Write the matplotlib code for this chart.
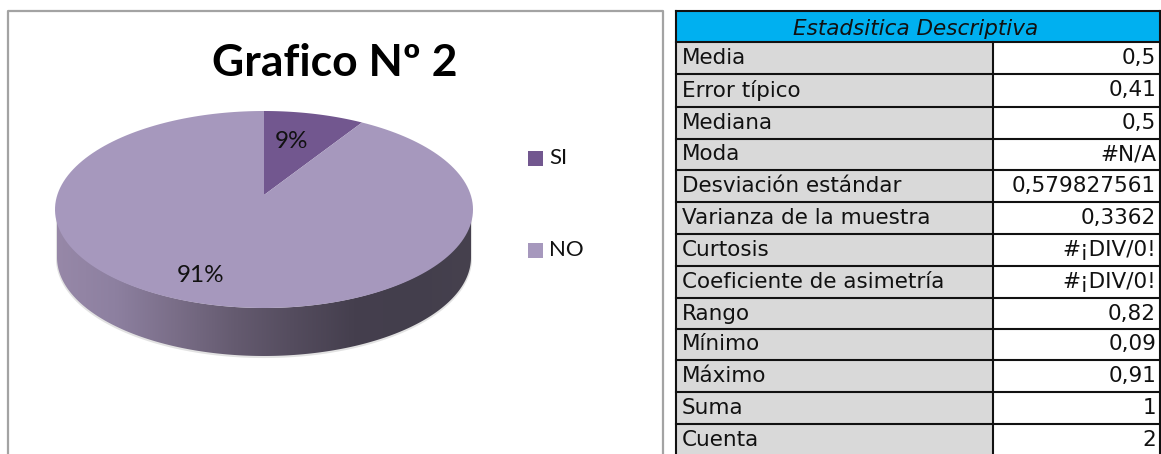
import matplotlib
matplotlib.use('Agg')
import matplotlib.pyplot as plt
import numpy as np
from matplotlib.colors import LinearSegmentedColormap
from matplotlib.patches import Rectangle, Polygon

# Pie data
categories = ['SI', 'NO']
shares = [9, 91]
pie_colors = ['#72578F', '#A698BD']

# Descriptive statistics table
table_title = 'Estadsitica Descriptiva'
stat_names = ['Media', 'Error típico', 'Mediana', 'Moda', 'Desviación estándar',
              'Varianza de la muestra', 'Curtosis', 'Coeficiente de asimetría',
              'Rango', 'Mínimo', 'Máximo', 'Suma', 'Cuenta']
stat_values = ['0,5', '0,41', '0,5', '#N/A', '0,579827561', '0,3362', '#¡DIV/0!',
               '#¡DIV/0!', '0,82', '0,09', '0,91', '1', '2']

W, H = 1161, 454
fig = plt.figure(figsize=(W / 100, H / 100), dpi=100)
ax = fig.add_axes([0, 0, 1, 1])
ax.set_xlim(0, W)
ax.set_ylim(H, 0)
ax.axis('off')

# Chart frame, open at the bottom
ax.plot([8, 8, 663, 663], [H, 11, 11, H], color='#A3A3A3', lw=1.6)
ax.text(335, 63, 'Grafico Nº 2', family='Lato', weight='bold', fontsize=32,
        ha='center', va='center', color='black')

# Pie geometry
cx, top_cy, rx, ry, depth = 264, 209.5, 209, 98.5, 48
apex = (264, 195)


def arc(start, end):
    # shares to points on the tilted rim, top is 0 and going clockwise
    t = np.radians(np.linspace(start, end, 200) * 3.6)
    t = t - np.radians(4.9) * np.sin(2 * t)
    return np.column_stack([cx + rx * np.sin(t), top_cy - ry * np.cos(t)])


# Side wall with horizontal gradient
t = np.linspace(0, np.pi, 200)
side_x = cx - (rx - 2) * np.cos(t)
side = np.column_stack([
    np.r_[side_x, side_x[::-1]],
    np.r_[top_cy + depth + ry * np.sin(t), top_cy + ry * np.sin(t[::-1])],
])
ax.add_patch(Polygon(side + [0, 1], closed=True, fc='#E2E2E2', ec='#E2E2E2', lw=1.5, zorder=1))
side_cmap = LinearSegmentedColormap.from_list(
    'side', ['#9788A8', '#8D80A0', '#7A6E88', '#655B70', '#544C5E', '#453F4E', '#433E4C', '#46414E'])
side_patch = Polygon(side, closed=True, fc='none', ec='none', zorder=2)
ax.add_patch(side_patch)
im = ax.imshow(np.linspace(0, 1, 256)[None, :], cmap=side_cmap, aspect='auto',
               extent=[cx - rx, cx + rx, top_cy + depth + ry, top_cy], zorder=2)
im.set_clip_path(side_patch)
ax.set_xlim(0, W)
ax.set_ylim(H, 0)

# Top face, one sector per category
cum = np.cumsum([0] + shares)
for i, name in enumerate(categories):
    rim = arc(cum[i], cum[i + 1])
    ax.fill(np.r_[apex[0], rim[:, 0]], np.r_[apex[1], rim[:, 1]],
            color=pie_colors[i], lw=0, zorder=3)

label_pos = [(291, 141), (201, 275)]
for share, (lx, ly) in zip(shares, label_pos):
    ax.text(lx, ly, f'{share}%', family='Lato', fontsize=17.5, ha='center', va='center',
            color='#111111', zorder=4)

# Legend
for name, color, ly in zip(categories, pie_colors, [158, 250]):
    ax.add_patch(Rectangle((528, ly - 7.5), 15, 15, fc=color, ec='none'))
    ax.text(549, ly, name, family='Lato', fontsize=16, ha='left', va='center', color='#111111')

# Table
left, mid, right = 676, 993, 1160
row_lines = [11, 42, 74, 107, 139, 170, 202, 234, 266, 298, 329, 360, 392, 424, 456]
ax.add_patch(Rectangle((left, row_lines[0]), right - left, row_lines[1] - row_lines[0],
                       fc='#00B0F0', ec='none'))
ax.add_patch(Rectangle((left, row_lines[1]), mid - left, row_lines[-1] - row_lines[1],
                       fc='#D9D9D9', ec='none'))
ax.text((left + right) / 2 - 2, 29, table_title, family='DejaVu Sans', style='italic',
        fontsize=15.5, ha='center', va='center', color='#111111')
for i, (name, value) in enumerate(zip(stat_names, stat_values)):
    y = (row_lines[i + 1] + row_lines[i + 2]) / 2
    ax.text(682, y, name, family='DejaVu Sans', fontsize=15.5, ha='left', va='center', color='#111111')
    ax.text(1156, y, value, family='DejaVu Sans', fontsize=15.5, ha='right', va='center', color='#111111')
for y in row_lines:
    ax.plot([left, right], [y, y], color='#111111', lw=1.5)
ax.plot([left, left], [row_lines[0], H], color='#111111', lw=1.5)
ax.plot([right, right], [row_lines[0], H], color='#111111', lw=1.5)
ax.plot([mid, mid], [row_lines[1], H], color='#111111', lw=1.5)

plt.savefig('out.png', dpi=100)
